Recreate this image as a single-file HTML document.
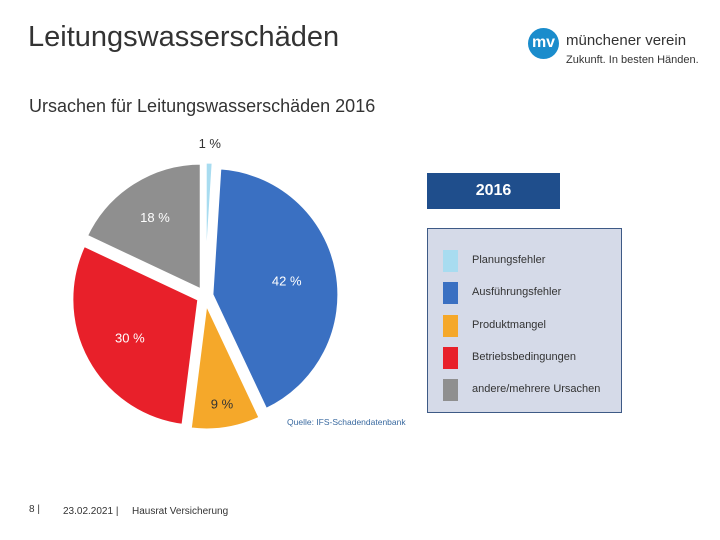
<!DOCTYPE html>
<html><head><meta charset="utf-8"><style>
body{margin:0;width:720px;height:540px;background:#fff;font-family:"Liberation Sans",sans-serif;position:relative;overflow:hidden}
.a{position:absolute;white-space:nowrap}
</style></head><body>
<div class="a" style="left:28px;top:21px;font-size:29px;color:#333">Leitungswasserschäden</div>
<div class="a" style="left:29px;top:96px;font-size:18px;color:#333">Ursachen für Leitungswasserschäden 2016</div>
<div class="a" style="left:528px;top:27px;width:175px;height:45px">
 <div style="position:absolute;left:0;top:1px;width:31px;height:31px;border-radius:50%;background:#1a8ccc;color:#fff;font-size:16px;font-weight:bold;text-align:center;line-height:30px">mv</div>
 <div class="a" style="left:38px;top:5px;font-size:15px;color:#333">münchener verein</div>
 <div class="a" style="left:38px;top:27px;font-size:11px;color:#333">Zukunft. In besten Händen.</div>
</div>
<svg class="a" style="left:0;top:0" width="720" height="540" id="pie"></svg>
<div class="a" style="left:287px;top:417px;font-size:8.5px;color:#3a6aa0">Quelle: IFS-Schadendatenbank</div>
<div class="a" style="left:427px;top:173px;width:133px;height:36px;background:#1f4e8c;color:#fff;font-weight:bold;font-size:16px;text-align:center;line-height:36px">2016</div>
<div class="a" style="left:427px;top:228px;width:195px;height:185px;background:#d5dae8;border:1px solid #3e5a86;box-sizing:border-box" id="legend"></div>
<div class="a" style="left:29px;top:504px;font-size:10px;color:#333">8 |</div>
<div class="a" style="left:63px;top:506px;font-size:10px;color:#333">23.02.2021 |</div>
<div class="a" style="left:132px;top:506px;font-size:10px;color:#333">Hausrat Versicherung</div>
<script>
const categories=["Planungsfehler","Ausführungsfehler","Produktmangel","Betriebsbedingungen","andere/mehrere Ursachen"];
const values=[1,42,9,30,18];
const labels=["1 %","42 %","9 %","30 %","18 %"];
const colors=["#a8dcf0","#3a70c2","#f5a82a","#e8202a","#8f8f8f"];
const cx=205,cy=296,R=127,ex=7;
const labelFactor=[1.15,0.6,0.8,0.62,0.68];
const svg=document.getElementById('pie');const NS="http://www.w3.org/2000/svg";
const tot=values.reduce((a,b)=>a+b,0);let acc=0;
values.forEach((v,i)=>{
 const a0=acc/tot*2*Math.PI;acc+=v;const a1=acc/tot*2*Math.PI;const am=(a0+a1)/2;
 const ox=cx+ex*Math.sin(am),oy=cy-ex*Math.cos(am);
 const p=(a,r)=>[ox+r*Math.sin(a),oy-r*Math.cos(a)];
 const s=p(a0,R),e=p(a1,R);
 const path=document.createElementNS(NS,'path');
 path.setAttribute('d',`M${ox},${oy}L${s[0]},${s[1]}A${R},${R} 0 ${a1-a0>Math.PI?1:0} 1 ${e[0]},${e[1]}Z`);
 path.setAttribute('fill',colors[i]);path.setAttribute('stroke','#fff');path.setAttribute('stroke-width','3');
 
 
 svg.appendChild(path);
 const l=p(am,R*labelFactor[i]);
 const t=document.createElementNS(NS,'text');
 t.setAttribute('x',l[0]);t.setAttribute('y',l[1]+5);t.setAttribute('text-anchor','middle');
 t.setAttribute('font-size','13');t.setAttribute('font-family','Liberation Sans, sans-serif');
 t.setAttribute('fill',(i==0||i==2)?'#333':'#fff');t.textContent=labels[i];
 
 
 svg.appendChild(t);
});
const lg=document.getElementById('legend');
categories.forEach((c,i)=>{
 const sw=document.createElement('div');sw.className='a';
 sw.style.cssText=`left:15px;top:${21+i*32.3}px;width:15px;height:22px;background:${colors[i]}`;
 
 
 lg.appendChild(sw);
 const tx=document.createElement('div');tx.className='a';
 tx.style.cssText=`left:44px;top:${25+i*32.3}px;font-size:11px;color:#333`;tx.textContent=c;
 
 
 lg.appendChild(tx);
});
</script>
</body></html>
